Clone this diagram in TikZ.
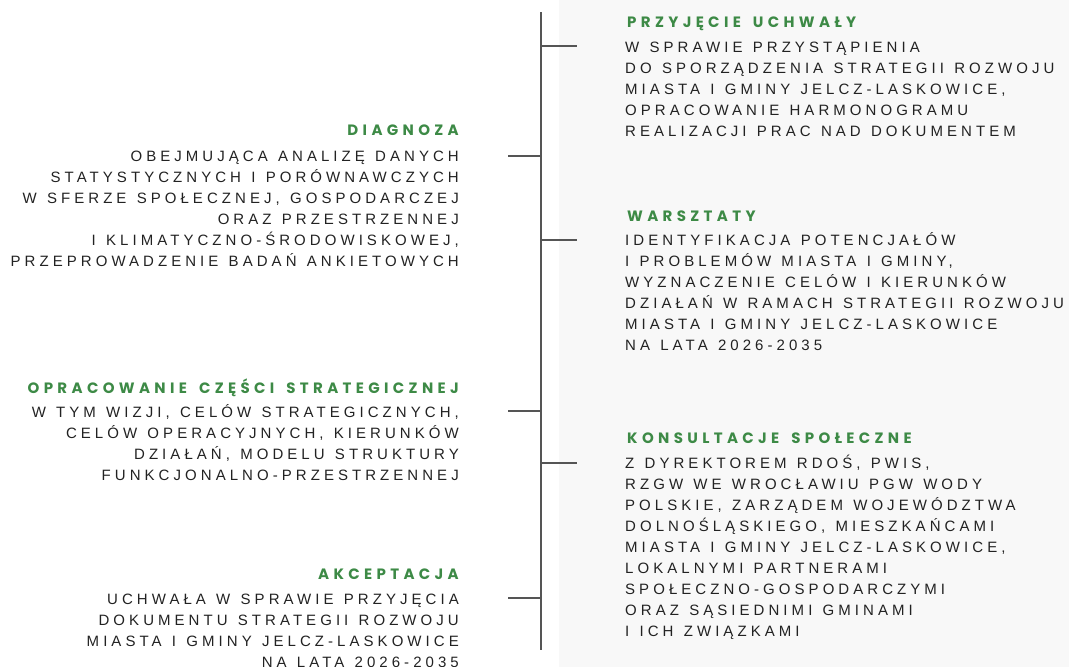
\documentclass[tikz,border=0pt]{standalone}
\usepackage{fontspec}
\newfontfamily\bodyfont[LetterSpace=27,WordSpace=1.25]{Liberation Sans}
\newfontfamily\headfont[LetterSpace=29,WordSpace=1.6]{Poppins}
\definecolor{headgreen}{HTML}{3D8A46}
\definecolor{bodygray}{HTML}{222222}
\definecolor{linegray}{HTML}{555555}
\definecolor{bgpanel}{HTML}{F8F8F8}
\tikzset{
  head/.style={font=\headfont\bfseries\fontsize{15}{16}\selectfont, text=headgreen, inner sep=0pt},
  body/.style={font=\bodyfont\fontsize{15}{21}\selectfont, text=bodygray, inner sep=0pt},
  spine/.style={draw=linegray, line width=2pt},
  tick/.style={draw=linegray, line width=1.6pt}
}
\newcommand{\fs}{\rule{0pt}{14pt}}
\begin{document}
\begin{tikzpicture}[x=1pt,y=-1pt]
\useasboundingbox (0,0) rectangle (1069,667);
\fill[bgpanel] (559,0) rectangle (1069,667);
% spine
\coordinate (top) at (541,12);
\coordinate (bot) at (541,650);
\path[spine] (top) -- (bot);
% ticks
\coordinate (r1) at (541,46);  \coordinate (r1e) at (577,46);
\coordinate (l1) at (541,156); \coordinate (l1e) at (508,156);
\coordinate (r2) at (541,240); \coordinate (r2e) at (577,240);
\coordinate (l2) at (541,411); \coordinate (l2e) at (508,411);
\coordinate (r3) at (541,463); \coordinate (r3e) at (577,463);
\coordinate (l3) at (541,598); \coordinate (l3e) at (508,598);
\foreach \a/\b in {r1/r1e,l1/l1e,r2/r2e,l2/l2e,r3/r3e,l3/l3e} \path[tick] (\a) -- (\b);
% right column
\node[head, anchor=base west] (h1) at (627,27) {PRZYJĘCIE UCHWAŁY};
\node[body, anchor=north west, align=left] (b1) at (625,38) {\fs W SPRAWIE PRZYSTĄPIENIA\\DO SPORZĄDZENIA STRATEGII ROZWOJU\\MIASTA I GMINY JELCZ-LASKOWICE,\\OPRACOWANIE HARMONOGRAMU\\REALIZACJI PRAC NAD DOKUMENTEM};
\node[head, anchor=base west] (h2) at (627,221) {WARSZTATY};
\node[body, anchor=north west, align=left] (b2) at (625,231) {\fs IDENTYFIKACJA POTENCJAŁÓW\\I PROBLEMÓW MIASTA I GMINY,\\WYZNACZENIE CELÓW I KIERUNKÓW\\DZIAŁAŃ W RAMACH STRATEGII ROZWOJU\\MIASTA I GMINY JELCZ-LASKOWICE\\NA LATA 2026-2035};
\node[head, anchor=base west] (h3) at (627,443) {KONSULTACJE SPOŁECZNE};
\node[body, anchor=north west, align=left] (b3) at (625,454) {\fs Z DYREKTOREM RDOŚ, PWIS,\\RZGW WE WROCŁAWIU PGW WODY\\POLSKIE, ZARZĄDEM WOJEWÓDZTWA\\DOLNOŚLĄSKIEGO, MIESZKAŃCAMI\\MIASTA I GMINY JELCZ-LASKOWICE,\\LOKALNYMI PARTNERAMI\\SPOŁECZNO-GOSPODARCZYMI\\ORAZ SĄSIEDNIMI GMINAMI\\I ICH ZWIĄZKAMI};
% left column
\node[head, anchor=base east] (h4) at (459,135) {DIAGNOZA};
\node[body, anchor=north east, align=right] (b4) at (459,147) {\fs OBEJMUJĄCA ANALIZĘ DANYCH\\STATYSTYCZNYCH I PORÓWNAWCZYCH\\W SFERZE SPOŁECZNEJ, GOSPODARCZEJ\\ORAZ PRZESTRZENNEJ\\I KLIMATYCZNO-ŚRODOWISKOWEJ,\\PRZEPROWADZENIE BADAŃ ANKIETOWYCH};
\node[head, anchor=base east] (h5) at (459,393) {OPRACOWANIE CZĘŚCI STRATEGICZNEJ};
\node[body, anchor=north east, align=right] (b5) at (459,403) {\fs W TYM WIZJI, CELÓW STRATEGICZNYCH,\\CELÓW OPERACYJNYCH, KIERUNKÓW\\DZIAŁAŃ, MODELU STRUKTURY\\FUNKCJONALNO-PRZESTRZENNEJ};
\node[head, anchor=base east] (h6) at (459,579) {AKCEPTACJA};
\node[body, anchor=north east, align=right] (b6) at (459,590) {\fs UCHWAŁA W SPRAWIE PRZYJĘCIA\\DOKUMENTU STRATEGII ROZWOJU\\MIASTA I GMINY JELCZ-LASKOWICE\\NA LATA 2026-2035};
\end{tikzpicture}
\end{document}
